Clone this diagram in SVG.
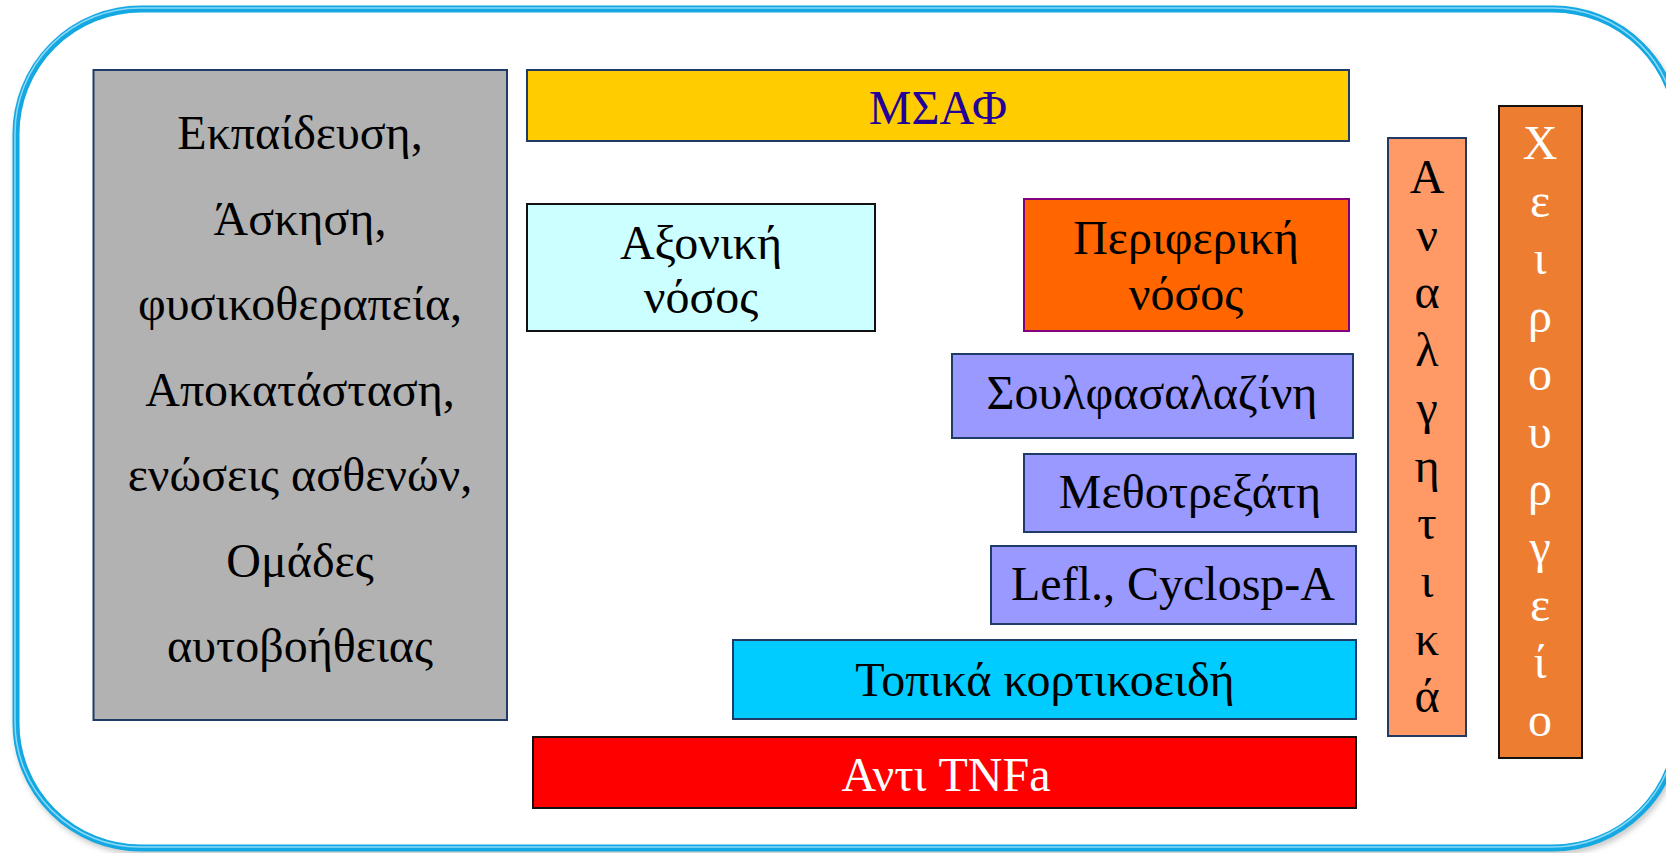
<svg xmlns="http://www.w3.org/2000/svg" width="1666" height="853" viewBox="0 0 1666 853">
<defs>
<filter id="sh" x="-5%" y="-5%" width="110%" height="115%">
<feGaussianBlur stdDeviation="3"/>
</filter>
<style>
.t{font-family:"Liberation Serif","Times New Roman",serif;font-size:48px;text-anchor:middle;fill:#000}
.w{fill:#fff}
.box{stroke-width:2}
.navy{stroke:#1f3b66}
.blk{stroke:#111}
</style>
</defs>
<rect width="1666" height="853" fill="#fff"/>
<g id="frame">
<rect x="18" y="13" width="1662" height="838" rx="125" ry="125" fill="none" stroke="#888" stroke-width="6" filter="url(#sh)" opacity="0.6"/>
<rect x="16" y="9" width="1662" height="839" rx="125" ry="125" fill="#fff" stroke="#14a8e2" stroke-width="7"/>
<rect x="16" y="9" width="1662" height="839" rx="125" ry="125" fill="none" stroke="#8ad8f6" stroke-width="1.5" transform="translate(-1,-1)"/>
</g>
<g id="connectors"></g>
<g id="gray">
<rect class="box navy" x="93.5" y="70" width="413.5" height="650" fill="#b2b2b2"/>
<text class="t" x="300" y="149">Εκπαίδευση,</text>
<text class="t" x="300" y="234.5">Άσκηση,</text>
<text class="t" x="300" y="320">φυσικοθεραπεία,</text>
<text class="t" x="300" y="405.5">Αποκατάσταση,</text>
<text class="t" x="300" y="491">ενώσεις ασθενών,</text>
<text class="t" x="300" y="576.5">Ομάδες</text>
<text class="t" x="300" y="662">αυτοβοήθειας</text>
</g>
<g id="msaf">
<rect class="box navy" x="527" y="70" width="822" height="71" fill="#ffcc00"/>
<text class="t" x="938" y="124" style="fill:#220099">ΜΣΑΦ</text>
</g>
<g id="axonic">
<rect class="box blk" x="527" y="204" width="348" height="127" fill="#ccffff"/>
<text class="t" x="701" y="259">Αξονική</text>
<text class="t" x="701" y="313">νόσος</text>
</g>
<g id="peripheral">
<rect class="box" x="1024" y="199" width="325" height="132" fill="#ff6600" stroke="#80007f"/>
<text class="t" x="1186" y="254">Περιφερική</text>
<text class="t" x="1186" y="310">νόσος</text>
</g>
<g id="sulfa">
<rect class="box navy" x="952" y="354" width="401" height="84" fill="#9999ff"/>
<text class="t" x="1152" y="409">Σουλφασαλαζίνη</text>
</g>
<g id="methotrexate">
<rect class="box navy" x="1024" y="454" width="332" height="78" fill="#9999ff"/>
<text class="t" x="1190" y="508">Μεθοτρεξάτη</text>
</g>
<g id="lefl">
<rect class="box navy" x="991" y="546" width="365" height="78" fill="#9999ff"/>
<text class="t" x="1173" y="600">Lefl., Cyclosp-A</text>
</g>
<g id="topika">
<rect class="box navy" x="733" y="640" width="623" height="79" fill="#00ccff"/>
<text class="t" x="1045" y="696">Τοπικά κορτικοειδή</text>
</g>
<g id="antitnf">
<rect class="box blk" x="533" y="737" width="823" height="71" fill="#ff0000"/>
<text class="t w" x="946" y="791">Αντι TNFa</text>
</g>
<g id="analgesics">
<rect class="box navy" x="1388" y="138" width="78" height="598" fill="#ff9966"/>
<text class="t" x="1427" y="193">Α</text>
<text class="t" x="1427" y="250.7">ν</text>
<text class="t" x="1427" y="308.4">α</text>
<text class="t" x="1427" y="366.1">λ</text>
<text class="t" x="1427" y="423.8">γ</text>
<text class="t" x="1427" y="481.5">η</text>
<text class="t" x="1427" y="539.2">τ</text>
<text class="t" x="1427" y="596.9">ι</text>
<text class="t" x="1427" y="654.6">κ</text>
<text class="t" x="1427" y="712.3">ά</text>
</g>
<g id="surgery">
<rect class="box blk" x="1499" y="106" width="83" height="652" fill="#ed7d31"/>
<text class="t w" x="1540" y="159">Χ</text>
<text class="t w" x="1540" y="216.7">ε</text>
<text class="t w" x="1540" y="274.4">ι</text>
<text class="t w" x="1540" y="332.1">ρ</text>
<text class="t w" x="1540" y="389.8">ο</text>
<text class="t w" x="1540" y="447.5">υ</text>
<text class="t w" x="1540" y="505.2">ρ</text>
<text class="t w" x="1540" y="562.9">γ</text>
<text class="t w" x="1540" y="620.6">ε</text>
<text class="t w" x="1540" y="678.3">ί</text>
<text class="t w" x="1540" y="736">ο</text>
</g>
</svg>
